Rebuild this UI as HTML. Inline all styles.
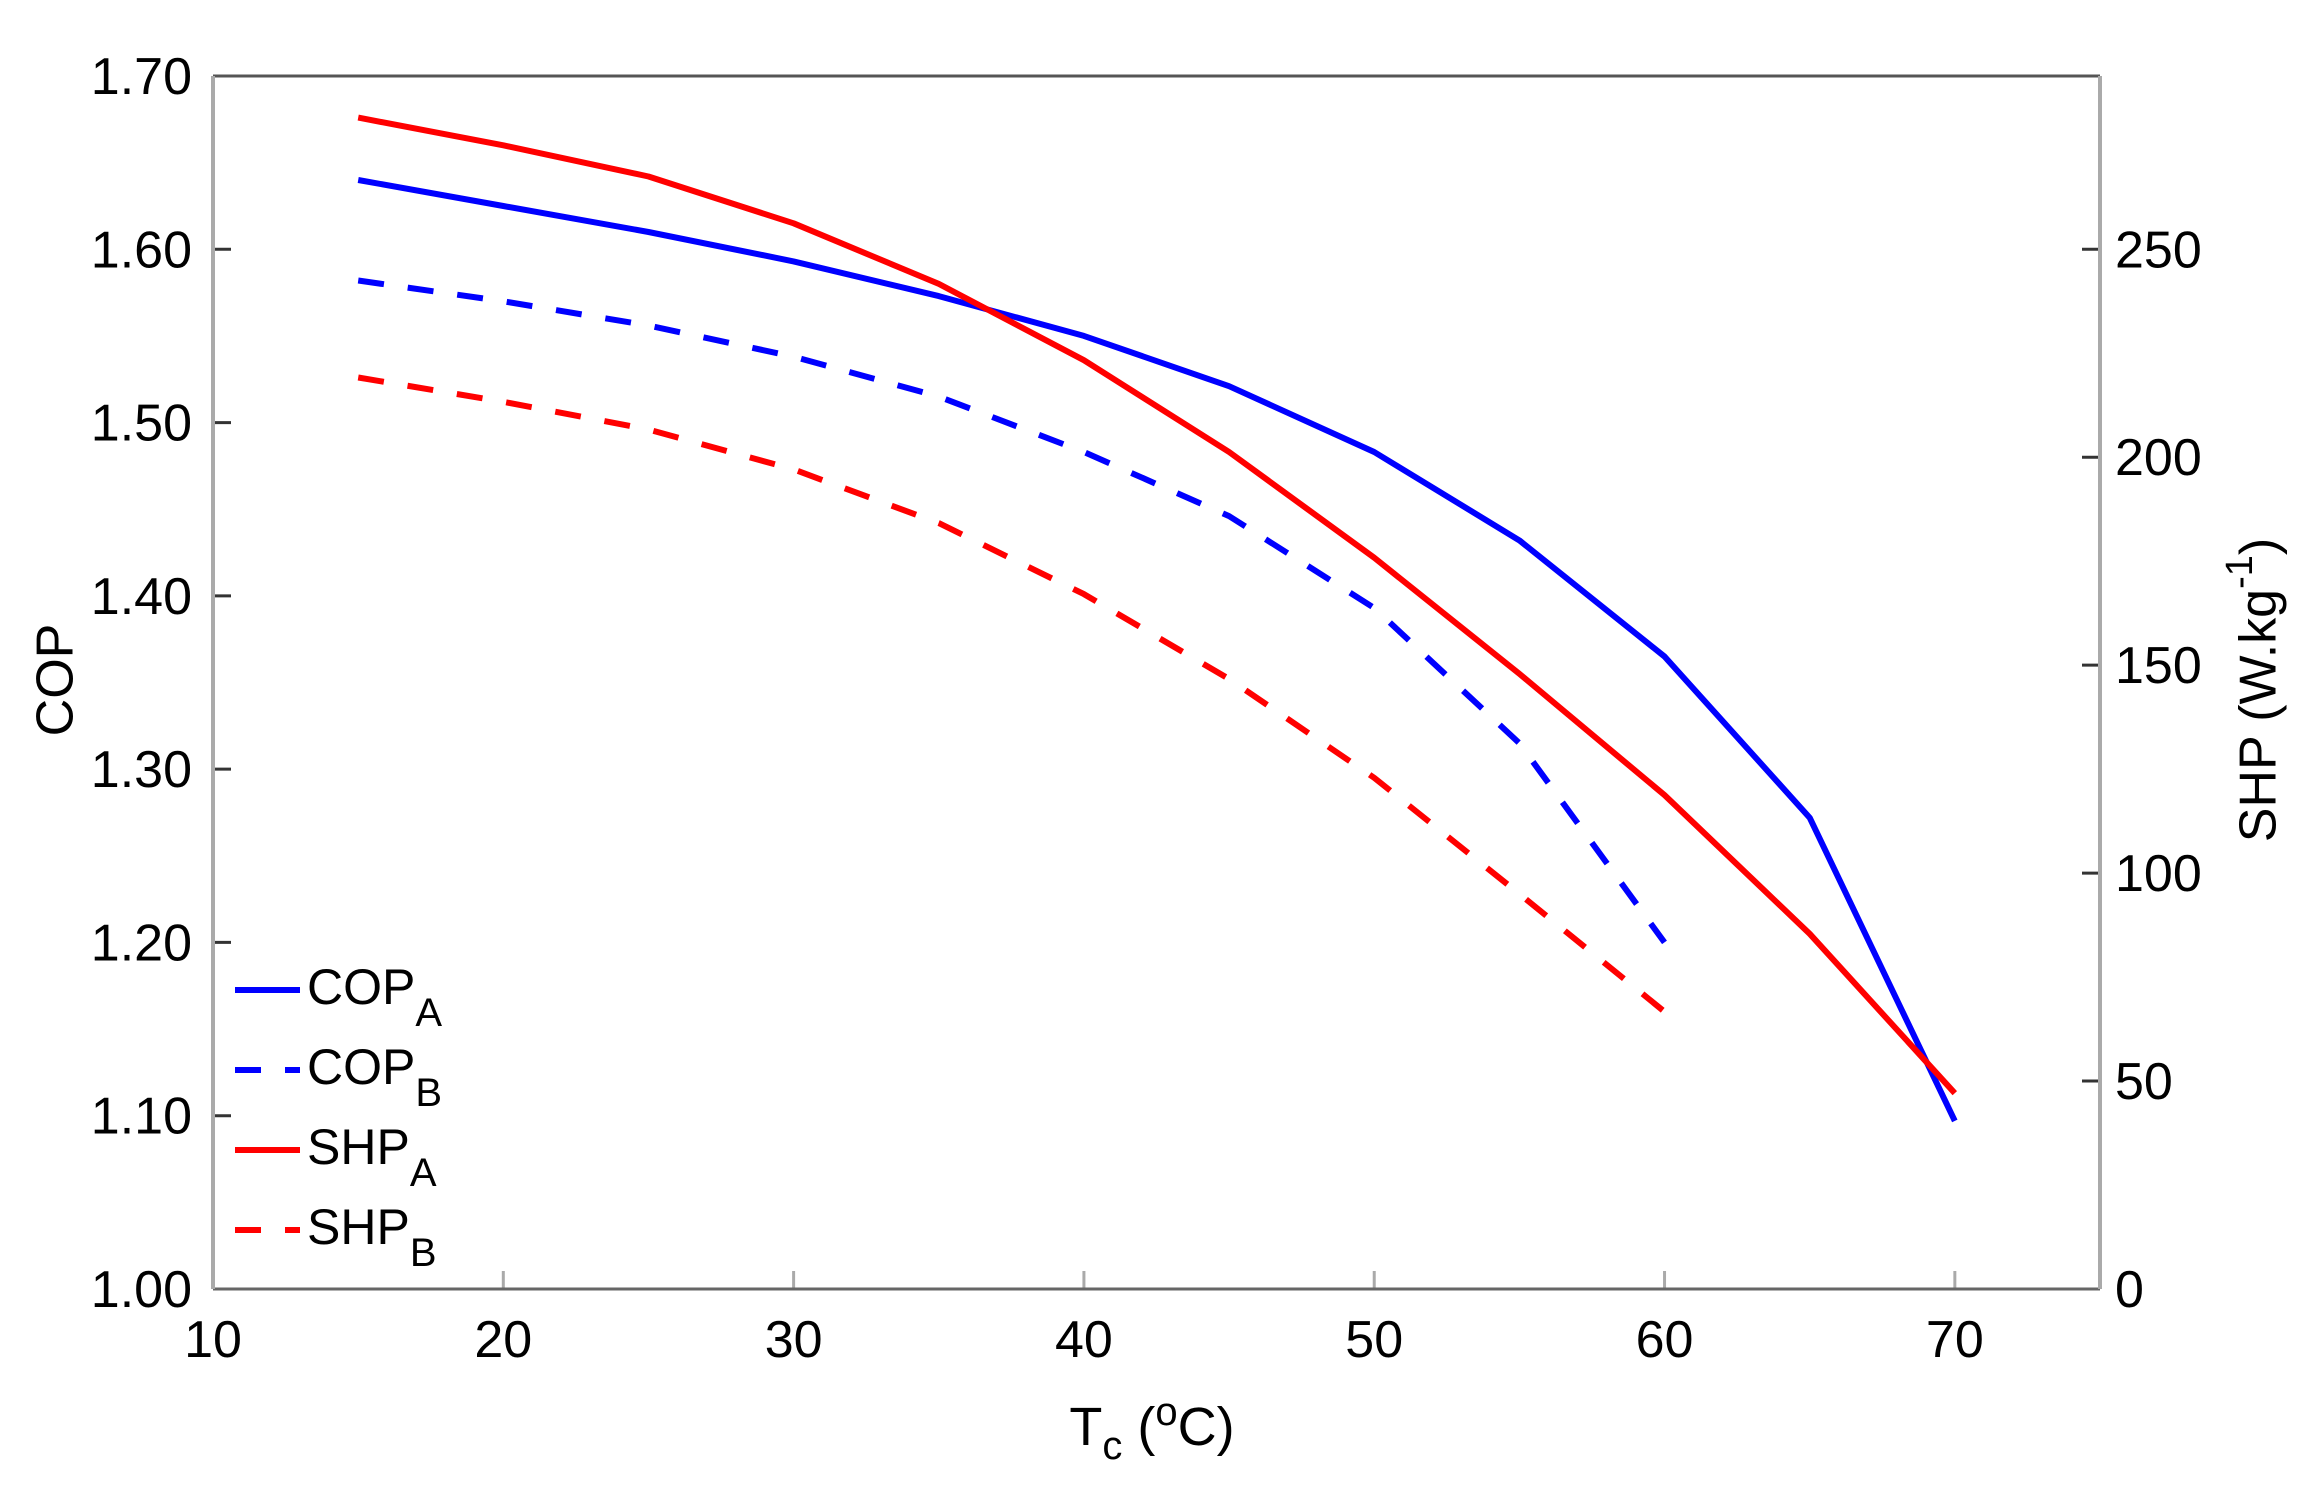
<!DOCTYPE html>
<html><head><meta charset="utf-8"><style>
html,body{margin:0;padding:0;background:#fff;}
svg{display:block;font-family:"Liberation Sans",Arial,sans-serif;}
</style></head><body>
<svg id="s" width="2316" height="1507" viewBox="0 0 2316 1507" xmlns="http://www.w3.org/2000/svg">
<rect width="2316" height="1507" fill="#fff"/>
<g id="ticks"></g>
<g id="lines" fill="none" stroke-width="6" stroke-linejoin="round"></g>
<line x1="213" y1="76" x2="2100" y2="76" stroke="#555" stroke-width="3"/>
<line x1="213" y1="1289" x2="2100" y2="1289" stroke="#666" stroke-width="3"/>
<line x1="213" y1="76" x2="213" y2="1289" stroke="#aaa" stroke-width="4"/>
<line x1="2100" y1="76" x2="2100" y2="1289" stroke="#aaa" stroke-width="4"/>
<text x="59" y="680" font-size="52" text-anchor="middle" transform="rotate(-90 59 680)" dominant-baseline="middle">COP</text>
<text x="2262" y="690" font-size="52" text-anchor="middle" transform="rotate(-90 2262 690)" dominant-baseline="middle">SHP (W.kg<tspan dy="-20" font-size="38">-1</tspan><tspan dy="20">)</tspan></text>
<text x="1152" y="1445" font-size="54" text-anchor="middle">T<tspan dy="14" font-size="40">c</tspan><tspan dy="-14"> (</tspan><tspan dy="-20" font-size="40">o</tspan><tspan dy="20">C)</tspan></text>
<g font-size="50">
<line x1="235" y1="990" x2="300" y2="990" stroke="#00f" stroke-width="6"/>
<text x="307" y="1004">COP<tspan dy="22" font-size="40">A</tspan></text>
<line x1="235" y1="1070" x2="300" y2="1070" stroke="#00f" stroke-width="6" stroke-dasharray="26,24"/>
<text x="307" y="1084">COP<tspan dy="22" font-size="40">B</tspan></text>
<line x1="235" y1="1150" x2="300" y2="1150" stroke="#f00" stroke-width="6"/>
<text x="307" y="1164">SHP<tspan dy="22" font-size="40">A</tspan></text>
<line x1="235" y1="1230" x2="300" y2="1230" stroke="#f00" stroke-width="6" stroke-dasharray="26,24"/>
<text x="307" y="1244">SHP<tspan dy="22" font-size="40">B</tspan></text>
</g>
</svg>
<script>
var NS="http://www.w3.org/2000/svg";
function X(x){return 213+(x-10)*(1887/65);}
function Y(y){return 1289-(y-1)*(1213/0.7);}
function el(p,t,a,txt){var e=document.createElementNS(NS,t);for(var k in a)e.setAttribute(k,a[k]);if(txt!==undefined)e.textContent=txt;document.getElementById(p).appendChild(e);return e;}
for(var v=0;v<=7;v++){var y=Y(1+v*0.1);
 el("ticks","text",{x:192,y:y+18,"font-size":52,"text-anchor":"end"},(1+v*0.1).toFixed(2));
 el("ticks","line",{x1:213,y1:y,x2:231,y2:y,stroke:"#333","stroke-width":3});}
for(var x=10;x<=70;x+=10){var px=X(x);
 el("ticks","text",{x:px,y:1357,"font-size":52,"text-anchor":"middle"},x);
 el("ticks","line",{x1:px,y1:1289,x2:px,y2:1271,stroke:"#aaa","stroke-width":3});}
for(var s=0;s<=250;s+=50){var y=1289-s*(1213/291.67);
 el("ticks","text",{x:2115,y:y+18,"font-size":52,"text-anchor":"start"},s);
 el("ticks","line",{x1:2082,y1:y,x2:2100,y2:y,stroke:"#333","stroke-width":3});}
var xs=[15,20,25,30,35,40,45,50,55,60,65,70];
var series=[
 ["#00f",null,[1.64,1.625,1.61,1.593,1.573,1.55,1.521,1.483,1.432,1.365,1.272,1.097]],
 ["#00f","26,24",[1.582,1.570,1.556,1.538,1.515,1.483,1.446,1.393,1.315,1.20]],
 ["#f00",null,[1.676,1.66,1.642,1.615,1.58,1.536,1.483,1.422,1.355,1.285,1.205,1.113]],
 ["#f00","26,24",[1.526,1.512,1.496,1.473,1.442,1.401,1.352,1.295,1.228,1.16]]];
series.forEach(function(s){var pts=s[2].map(function(v,i){return X(xs[i]).toFixed(1)+","+Y(v).toFixed(1);}).join(" ");
 var a={points:pts,stroke:s[0]};if(s[1])a["stroke-dasharray"]=s[1];el("lines","polyline",a);});
</script>
</body></html>
